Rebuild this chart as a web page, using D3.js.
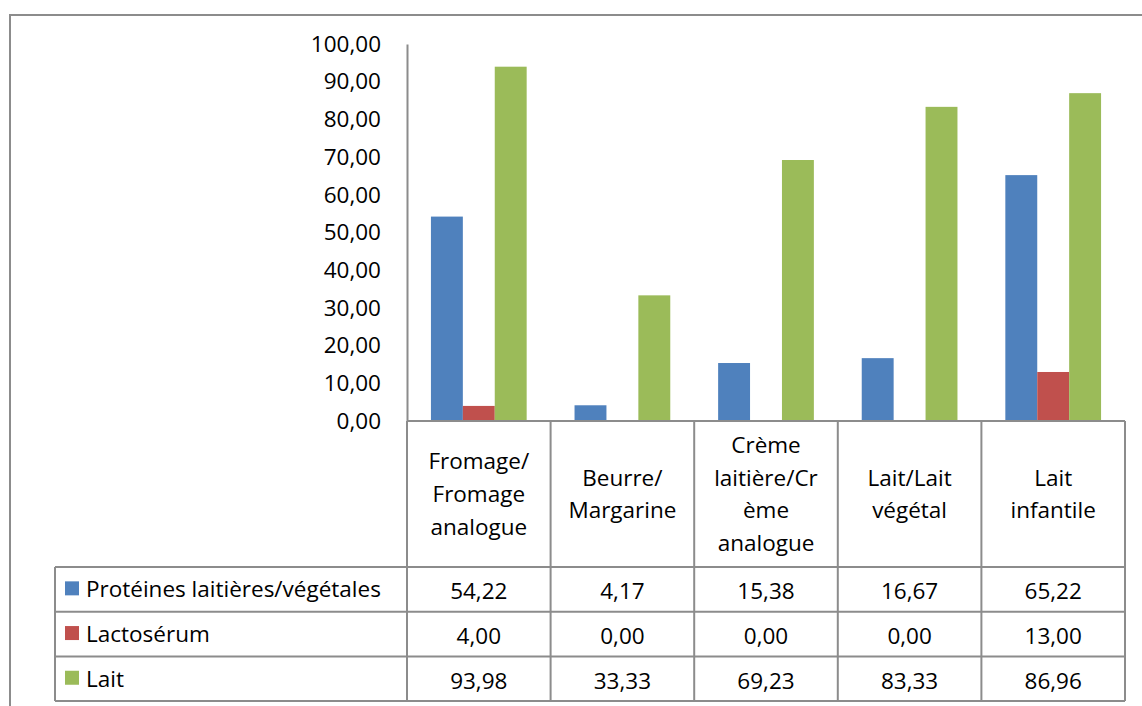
<!DOCTYPE html>
<html>
<head>
<meta charset="utf-8">
<script src="https://cdn.jsdelivr.net/npm/d3@7"></script>
<style>
  html, body { margin: 0; padding: 0; background: #fff; }
  svg { display: block; font-family: "Open Sans", sans-serif; }
</style>
</head>
<body>
<svg id="chart" width="1142" height="706"></svg>
<script>
const categories = [
  ['Fromage/', 'Fromage', 'analogue'],
  ['Beurre/', 'Margarine'],
  ['Crème', 'laitière/Cr', 'ème', 'analogue'],
  ['Lait/Lait', 'végétal'],
  ['Lait', 'infantile']
];
const seriesNames = ['Protéines laitières/végétales', 'Lactosérum', 'Lait'];
const proteines = [54.22, 4.17, 15.38, 16.67, 65.22];
const lactoserum = [4.00, 0.00, 0.00, 0.00, 13.00];
const lait = [93.98, 33.33, 69.23, 83.33, 86.96];
const yTicks = [0, 10, 20, 30, 40, 50, 60, 70, 80, 90, 100];

const seriesValues = [proteines, lactoserum, lait];
const colors = ['#4F81BD', '#C0504D', '#9BBB59'];
const gridColor = '#8c8c8c';
const catKeys = categories.map(c => c.join(' '));
const fontSize = '22.5px';

const fr = d3.formatLocale({ decimal: ',', thousands: ' ', grouping: [3], currency: ['', ' €'] });
const fmt = fr.format('.2f');

const svg = d3.select('#chart');

// outer frame (only top + left visible)
svg.append('path')
  .attr('d', 'M10,706 V15 H1142')
  .attr('fill', 'none')
  .attr('stroke', gridColor)
  .attr('stroke-width', 2);

const plotLeft = 407, plotRight = 1125, plotTop = 44, plotBottom = 421;
const tableLeft = 55, headerBottom = 567, rowH = 44.7;

const x = d3.scaleBand().domain(catKeys).range([plotLeft, plotRight]);
const bw = x.bandwidth() / 4.5;
const xs = d3.scaleBand().domain(seriesNames).range([0.75 * bw, 3.75 * bw]);
const y = d3.scaleLinear().domain([0, 100]).range([plotBottom, plotTop]);

// bars
seriesNames.forEach((name, si) => {
  svg.append('g').selectAll('rect')
    .data(seriesValues[si])
    .join('rect')
    .attr('x', (d, i) => x(catKeys[i]) + xs(name))
    .attr('y', d => y(d))
    .attr('width', xs.bandwidth())
    .attr('height', d => y(0) - y(d))
    .attr('fill', colors[si]);
});

// y axis
const yAxis = svg.append('g')
  .attr('transform', `translate(${plotLeft},0)`)
  .call(d3.axisLeft(y).tickValues(yTicks).tickFormat(fmt).tickSize(0).tickPadding(26));
yAxis.select('.domain').attr('stroke', gridColor).attr('stroke-width', 2);
yAxis.selectAll('text')
  .attr('fill', '#000')
  .style('font-size', fontSize)
  .style('font-family', '"Open Sans", sans-serif');

// data table
const table = svg.append('g').attr('fill', 'none').attr('stroke', gridColor).attr('stroke-width', 2);
const tableBottom = headerBottom + rowH * seriesNames.length;
table.append('line').attr('x1', plotLeft).attr('x2', plotRight).attr('y1', plotBottom).attr('y2', plotBottom);
d3.range(seriesNames.length + 1).forEach(r => {
  const yy = headerBottom + r * rowH;
  table.append('line').attr('x1', tableLeft).attr('x2', plotRight).attr('y1', yy).attr('y2', yy);
});
table.append('line').attr('x1', tableLeft).attr('x2', tableLeft).attr('y1', headerBottom).attr('y2', tableBottom);
catKeys.concat([null]).forEach(k => {
  const xx = k === null ? plotRight : x(k);
  table.append('line').attr('x1', xx).attr('x2', xx).attr('y1', plotBottom).attr('y2', tableBottom);
});

// category headers
const lineH = 32.7;
categories.forEach((lines, i) => {
  const cx = x(catKeys[i]) + x.bandwidth() / 2;
  const cy = (plotBottom + headerBottom) / 2;
  const t = svg.append('text')
    .attr('text-anchor', 'middle')
    .style('font-size', fontSize)
    .attr('fill', '#000');
  lines.forEach((ln, j) => {
    t.append('tspan')
      .attr('x', cx)
      .attr('y', cy + (j - (lines.length - 1) / 2) * lineH)
      .attr('dy', '0.35em')
      .text(ln);
  });
});

// series rows
seriesNames.forEach((name, si) => {
  const cy = headerBottom + si * rowH + rowH / 2;
  svg.append('rect')
    .attr('x', 65).attr('y', cy - 8)
    .attr('width', 14).attr('height', 14)
    .attr('fill', colors[si]);
  svg.append('text')
    .attr('x', 86).attr('y', cy)
    .attr('dy', '0.35em')
    .style('font-size', fontSize)
    .attr('fill', '#000')
    .text(name);
  seriesValues[si].forEach((v, i) => {
    svg.append('text')
      .attr('x', x(catKeys[i]) + x.bandwidth() / 2)
      .attr('y', cy + 2)
      .attr('dy', '0.35em')
      .attr('text-anchor', 'middle')
      .style('font-size', fontSize)
      .attr('fill', '#000')
      .text(fmt(v));
  });
});
</script>
</body>
</html>
